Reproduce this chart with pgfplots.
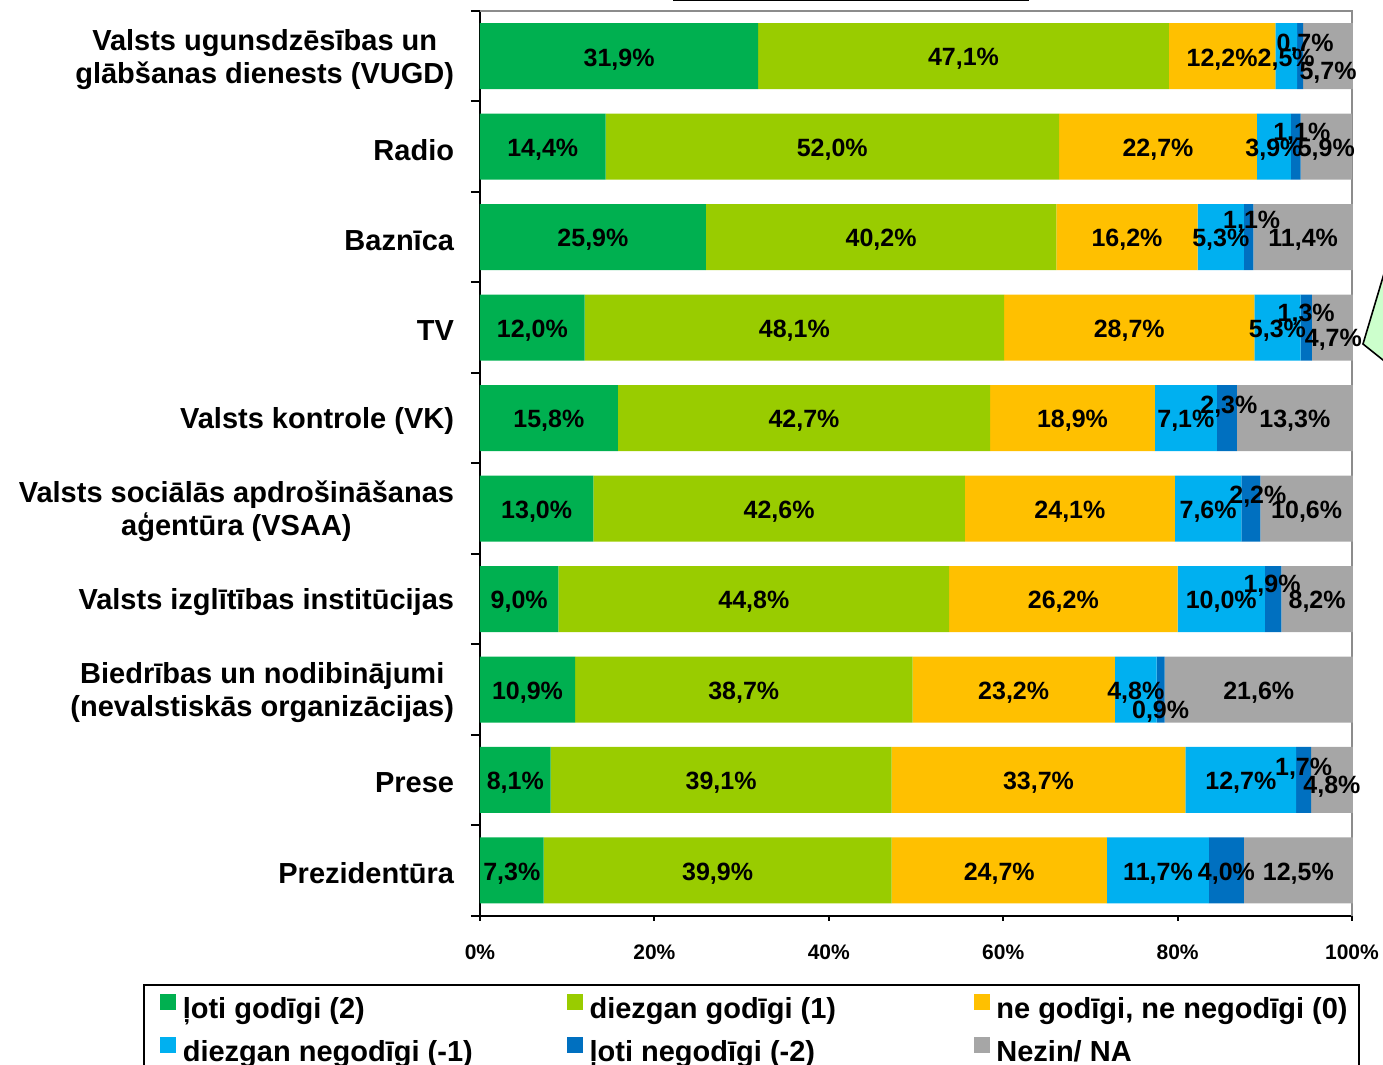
\documentclass[border=0pt]{standalone}
\usepackage{fontspec}
\setmainfont{Liberation Sans}
\usepackage{pgfplots}
\usepackage{pgfplotstable}
\pgfplotsset{compat=1.18}

\definecolor{vg}{HTML}{00B050}
\definecolor{lg}{HTML}{99CC00}
\definecolor{yo}{HTML}{FFC000}
\definecolor{lb}{HTML}{00B0F0}
\definecolor{db}{HTML}{0070C0}
\definecolor{na}{HTML}{A6A6A6}
\definecolor{framegray}{HTML}{8C8C8C}
\definecolor{callout}{HTML}{CCFFCC}

% i = row from the top, v = share in %, dx/dy = label nudge in px (dy down)
\pgfplotstableread{
i v dx dy
0 31.9 0 0
1 14.4 0 0
2 25.9 0 0
3 12.0 0 0
4 15.8 0 0
5 13.0 0 0
6 9.0 0 0
7 10.9 0 0
8 8.1 0 0
9 7.3 0 0
}\dataA
\pgfplotstableread{
i v dx dy
0 47.1 0 0
1 52.0 0 0
2 40.2 0 0
3 48.1 0 0
4 42.7 0 0
5 42.6 0 0
6 44.8 0 0
7 38.7 0 0
8 39.1 0 0
9 39.9 0 0
}\dataB
\pgfplotstableread{
i v dx dy
0 12.2 0 0
1 22.7 0 0
2 16.2 0 0
3 28.7 0 0
4 18.9 0 0
5 24.1 0 0
6 26.2 0 0
7 23.2 0 0
8 33.7 0 0
9 24.7 0 0
}\dataC
\pgfplotstableread{
i v dx dy
0 2.5 0 0
1 3.9 0 0
2 5.3 0 0
3 5.3 0 0
4 7.1 0 0
5 7.6 0 0
6 10.0 0 0
7 4.8 0 0
8 12.7 0 0
9 11.7 0 0
}\dataD
\pgfplotstableread{
i v dx dy
0 0.7 5 -15
1 1.1 6 -16
2 1.1 3 -18
3 1.3 0 -16
4 2.3 2 -14
5 2.2 7 -15
6 1.9 -1 -16
7 0.9 0 19
8 1.7 0 -14
9 4.0 0 0
}\dataE
\pgfplotstableread{
i v dx dy
0 5.7 0 14
1 5.9 0 0
2 11.4 0 0
3 4.7 1 9
4 13.3 0 0
5 10.6 0 0
6 8.2 0 0
7 21.6 0 0
8 4.8 0 4
9 12.5 0 0
}\dataF

\pgfplotsset{
  base/.style={
    at={(0,0)}, anchor=south west,
    width=436pt, height=452.35pt, scale only axis,
    xbar stacked, bar width=33pt,
    xmin=0, xmax=100, ymin=-0.5, ymax=9.5,
    clip=false,
    /pgf/number format/assume math mode=true,
  },
  sq legend/.style={legend image code/.code={\fill[##1] (0pt,1pt) rectangle (8pt,9pt);}},
  seglabels/.style={
    draw=none, fill=none,
    point meta=explicit,
    nodes near coords={\pgfmathprintnumber[fixed,fixed zerofill,precision=1,use comma]{\pgfplotspointmeta}\%},
    visualization depends on={\thisrow{dx} \as \segdx},
    visualization depends on={\thisrow{dy} \as \segdy},
    every node near coord/.append style={anchor=center, inner sep=0pt, text=black,
      font=\fontsize{12.5}{14}\selectfont\bfseries,
      xshift={0.5pt*(\segdx)}, yshift={-1.5pt-0.5pt*(\segdy)}},
  },
}

\begin{document}
\begin{tikzpicture}
\begin{axis}[base, name=ax,
  axis line style={draw=none},
  tick pos=left, tick align=outside,
  xtick={0,20,...,100},
  xticklabels={0\%,20\%,40\%,60\%,80\%,100\%},
  xticklabel style={font=\fontsize{10.5}{12}\selectfont\bfseries, anchor=base, inner sep=0pt, yshift=-17.5pt},
  xtick style={black, line width=1pt, /pgfplots/major tick length=2.5pt},
  ytick={-0.5,0.5,...,9.5},
  yticklabels={,,,,,,,,,,},
  ytick style={black, line width=1pt, /pgfplots/major tick length=4.5pt},
  extra y ticks={0,1,...,9},
  extra y tick labels={Prezidentūra, Prese, {Biedrības un nodibinājumi\\(nevalstiskās organizācijas)}, Valsts izglītības institūcijas, {Valsts sociālās apdrošināšanas\\aģentūra (VSAA)}, Valsts kontrole (VK), TV, Baznīca, Radio, {Valsts ugunsdzēsības un\\glābšanas dienests (VUGD)}},
  extra y tick style={ytick style={draw=none}},
  yticklabel style={font=\fontsize{14.5}{16.5}\selectfont\bfseries, align=center, anchor=east, inner sep=0pt, xshift=-8.5pt, yshift=-1.5pt},
  legend columns=3,
  legend style={at={(0,0)}, anchor=north west, xshift=-168.5pt, yshift=-34.15pt,
    draw=black, line width=1pt, inner xsep=8pt, inner ysep=4.5pt,
    font=\fontsize{14.5}{16.5}\selectfont\bfseries,
    nodes={inner sep=0pt, text height=10.5pt, text depth=3.5pt},
    row sep=5.5pt,
    /tikz/every odd column/.append style={column sep=3.4pt}},
]
\addplot[fill=vg, draw=none, sq legend] table[x=v, y expr=9-\thisrow{i}] {\dataA};
\addlegendentry{\makebox[192pt][l]{ļoti godīgi (2)}}
\addplot[fill=lg, draw=none, sq legend] table[x=v, y expr=9-\thisrow{i}] {\dataB};
\addlegendentry{\makebox[192pt][l]{diezgan godīgi (1)}}
\addplot[fill=yo, draw=none, sq legend] table[x=v, y expr=9-\thisrow{i}] {\dataC};
\addlegendentry{\makebox[173.5pt][l]{ne godīgi, ne negodīgi (0)}}
\addplot[fill=lb, draw=none, sq legend] table[x=v, y expr=9-\thisrow{i}] {\dataD};
\addlegendentry{\makebox[192pt][l]{diezgan negodīgi (-1)}}
\addplot[fill=db, draw=none, sq legend] table[x=v, y expr=9-\thisrow{i}] {\dataE};
\addlegendentry{\makebox[192pt][l]{ļoti negodīgi (-2)}}
\addplot[fill=na, draw=none, sq legend] table[x=v, y expr=9-\thisrow{i}] {\dataF};
\addlegendentry{\makebox[173.5pt][l]{Nezin/ NA}}
\draw[framegray, line width=1pt] (rel axis cs:0,1) -- (rel axis cs:1,1) -- (rel axis cs:1,0);
\draw[black, line width=1pt] (rel axis cs:0,1) -- (rel axis cs:0,0) -- (rel axis cs:1,0);
\end{axis}

% second, invisible copy of the stack that only carries the value labels on top
\begin{axis}[base, hide axis]
\addplot[seglabels] table[x=v, y expr=9-\thisrow{i}, meta=v] {\dataA};
\addplot[seglabels] table[x=v, y expr=9-\thisrow{i}, meta=v] {\dataB};
\addplot[seglabels] table[x=v, y expr=9-\thisrow{i}, meta=v] {\dataC};
\addplot[seglabels] table[x=v, y expr=9-\thisrow{i}, meta=v] {\dataD};
\addplot[seglabels] table[x=v, y expr=9-\thisrow{i}, meta=v] {\dataE};
\addplot[seglabels] table[x=v, y expr=9-\thisrow{i}, meta=v] {\dataF};
\end{axis}

% pieces of neighbouring objects cut by the frame
\begin{scope}[shift={(ax.south west)}]
\fill[callout] (441.5pt,285.85pt) -- (460pt,347.85pt) -- (470pt,347.85pt) -- (470pt,271.05pt) -- (460pt,271.05pt) -- cycle;
\draw[black, line width=0.8pt] (460pt,347.85pt) -- (441.5pt,285.85pt) -- (460pt,271.05pt);
\draw[black, line width=1pt] (96.5pt,457.6pt) -- (274.5pt,457.6pt);
\end{scope}

\pgfresetboundingbox
\path[use as bounding box] ([shift={(-240pt,-74.65pt)}]ax.south west) rectangle ([shift={(451.5pt,457.85pt)}]ax.south west);
\end{tikzpicture}
\end{document}
